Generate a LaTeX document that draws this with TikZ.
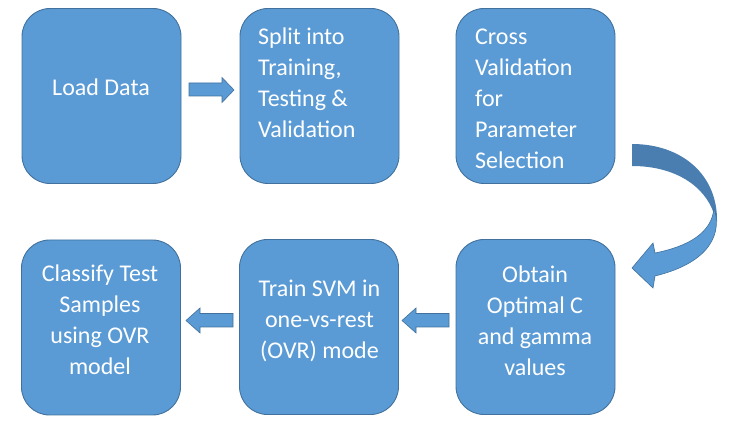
\documentclass[tikz,border=0pt]{standalone}
\usepackage{fontspec}
\setmainfont{Carlito}
\definecolor{boxfill}{HTML}{5B9BD5}
\definecolor{boxline}{HTML}{41719C}
\definecolor{arrdark}{HTML}{4A7DB0}
\begin{document}
\begin{tikzpicture}[x=1pt,y=-1pt,
  stepbox/.style={draw=boxline, line width=0.9pt, fill=boxfill, rounded corners=28pt,
    minimum width=159pt, minimum height=175pt, inner sep=0pt, outer sep=0pt},
  lbl/.style={text=white, inner sep=0pt, font=\fontsize{24}{31}\selectfont},
  blockarrow/.style={fill=boxfill, draw=boxline, line width=0.6pt, line join=miter}]
\useasboundingbox (0,0) rectangle (729,430);
% boxes
\node[stepbox] (b1) at (101.5,96) {};
\node[stepbox] (b2) at (319.5,96) {};
\node[stepbox] (b3) at (535.5,96) {};
\node[stepbox] (b4) at (101,327.5) {};
\node[stepbox] (b5) at (319,327) {};
\node[stepbox] (b6) at (535.5,327) {};
% texts
\node[lbl, anchor=base] (t1) at (101,96) {Load Data};
\node[lbl, anchor=base west] (t2) at (258,45) {\begin{tabular}[t]{@{}l@{}}Split into\\Training,\\Testing \&\\Validation\end{tabular}};
\node[lbl, anchor=base west] (t3) at (475,45) {\begin{tabular}[t]{@{}l@{}}Cross\\Validation\\for\\Parameter\\Selection\end{tabular}};
\node[lbl, anchor=base] (t4) at (100,282) {\begin{tabular}[t]{@{}c@{}}Classify Test\\Samples\\using OVR\\model\end{tabular}};
\node[lbl, anchor=base] (t5) at (319.5,297) {\begin{tabular}[t]{@{}c@{}}Train SVM in\\one-vs-rest\\(OVR) mode\end{tabular}};
\node[lbl, anchor=base] (t6) at (535,283) {\begin{tabular}[t]{@{}c@{}}Obtain\\Optimal C\\and gamma\\values\end{tabular}};
% straight block arrows
\draw[blockarrow] (189,83) -- (222,83) -- (222,77.5) -- (234,90) -- (222,102.5) -- (222,96) -- (189,96) -- cycle;
\draw[blockarrow] (449,313.5) -- (416,313.5) -- (416,308) -- (402,320.5) -- (416,333) -- (416,327) -- (449,327) -- cycle;
\draw[blockarrow] (233,313.5) -- (200,313.5) -- (200,308) -- (186,320.5) -- (200,333) -- (200,327) -- (233,327) -- cycle;
% curved arrow
\fill[arrdark] (632,144) .. controls (682,144) and (718,175) .. (717,222)
  -- (714,214) .. controls (705,186) and (675,166) .. (632,166) -- cycle;
\draw[blockarrow] (714,208) .. controls (722,232) and (712,262) .. (655,276)
  -- (653,288) -- (632,268) -- (653,243) -- (655,253)
  .. controls (690,246) and (712,232) .. (714,208) -- cycle;
\end{tikzpicture}
\end{document}
